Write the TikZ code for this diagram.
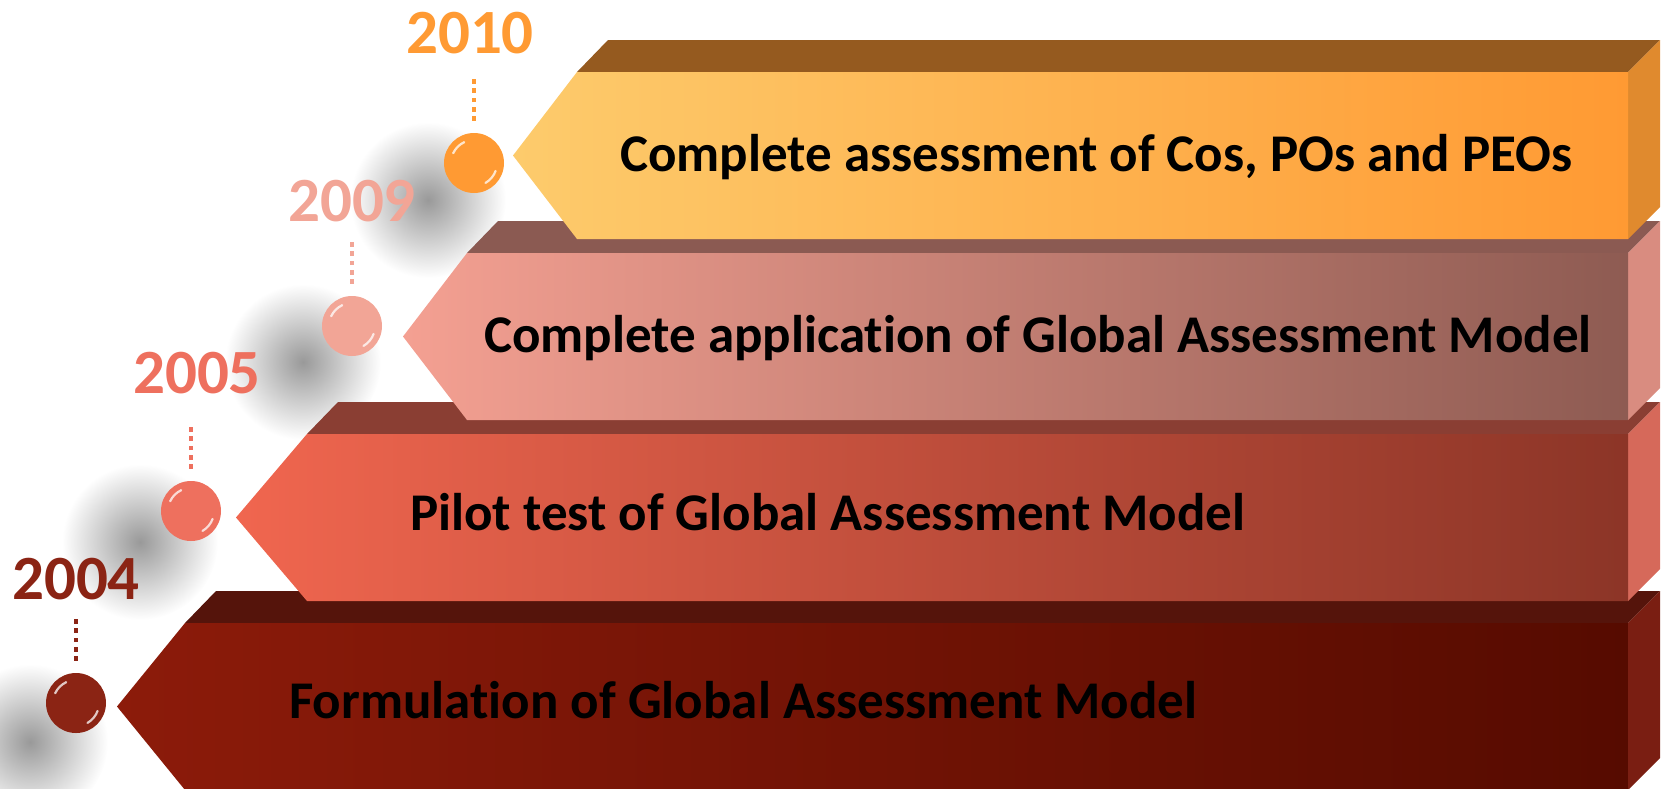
\documentclass[tikz,border=0pt]{standalone}
\usepackage{fontspec}
\setmainfont{Carlito}[Ligatures=NoCommon]
\usetikzlibrary{calc}
\definecolor{oA}{HTML}{FDCB6C}\definecolor{oB}{HTML}{FF9A33}\definecolor{oT}{HTML}{955A1F}\definecolor{oS}{HTML}{E08A2E}
\definecolor{pA}{HTML}{F4A092}\definecolor{pB}{HTML}{8E5B52}\definecolor{pT}{HTML}{8B5A52}\definecolor{pS}{HTML}{D98C80}
\definecolor{rA}{HTML}{F0664F}\definecolor{rB}{HTML}{8C3527}\definecolor{rT}{HTML}{8A3E33}\definecolor{rS}{HTML}{D6695A}
\definecolor{dA}{HTML}{8C1B0A}\definecolor{dB}{HTML}{560B00}\definecolor{dT}{HTML}{55140B}\definecolor{dS}{HTML}{7A1E12}
\definecolor{y1}{HTML}{FF9A33}\definecolor{y2}{HTML}{F2A596}\definecolor{y3}{HTML}{EE705E}\definecolor{y4}{HTML}{8B2414}
\newcommand\tlblock[8]{%
  \fill[#7] (#1,#3) -- (#1+31,#3-32) -- (1660,#3-32) -- (1628,#3) -- cycle;
  \fill[#8] (1628,#3) -- (1660,#3-32) -- (1660,#4-32) -- (1628,#4) -- cycle;
  \shade[left color=#5, right color=#6] (#1,#3) -- (1628,#3) -- (1628,#4) -- (#1,#4) -- (#2,{(#3+#4)/2}) -- cycle;
}
\newcommand\tlball[3]{% name, position, colour
  \node[ball, fill=#3] (#1) at (#2) {};
  \draw[white, opacity=.75, line width=2.2pt, line cap=round] ([shift={(205:23)}]#1.center) arc (205:245:23);
  \draw[white, opacity=.75, line width=2.2pt, line cap=round] ([shift={(20:23)}]#1.center) arc (20:60:23);
  \draw[dots, #3] ($(#1.north)+(0,-12)$) -- ($(#1.north)+(0,-58)$);
}
\begin{document}
\begin{tikzpicture}[x=1pt,y=-1pt,
  yr/.style={font=\fontsize{63}{63}\selectfont\bfseries, inner sep=0pt},
  lbl/.style={font=\fontsize{53}{53}\selectfont\bfseries, anchor=west, inner sep=0pt, text=black},
  ball/.style={circle, minimum size=60pt, inner sep=0pt},
  dots/.style={line width=4.5pt, dash pattern=on 4.5pt off 4.8pt}]
\useasboundingbox (0,0) rectangle (1668,788);
\clip (0,0) rectangle (1668,788);
% shadows
\foreach \p in {(428,200),(303,362),(140,542),(30,742)}
  \shade[inner color=black!40, outer color=white] \p circle (78);
% blocks, bottom first
\tlblock{185}{117}{623}{790}{dA}{dB}{dT}{dS}
\node[lbl] (t4) at (289,700) {Formulation of Global Assessment Model};
\tlblock{307}{236}{434}{601}{rA}{rB}{rT}{rS}
\node[lbl] (t3) at (410,512) {Pilot test of Global Assessment Model};
\tlblock{467}{403}{253}{420}{pA}{pB}{pT}{pS}
\node[lbl] (t2) at (484,338) {Complete application of Global Assessment Model};
\tlblock{577}{513}{72}{239}{oA}{oB}{oT}{oS}
\node[lbl] (t1) at (620,157) {Complete assessment of Cos, POs and PEOs};
% balls with dotted links, years
\tlball{s1}{474,163}{y1}
\tlball{s2}{352,326}{y2}
\tlball{s3}{191,511}{y3}
\tlball{s4}{76,703}{y4}
\node[yr, text=y1] (n1) at (470,33) {2010};
\node[yr, text=y2] (n2) at (352,201) {2009};
\node[yr, text=y3] (n3) at (197,373) {2005};
\node[yr, text=y4] (n4) at (76,579) {2004};
\end{tikzpicture}
\end{document}
